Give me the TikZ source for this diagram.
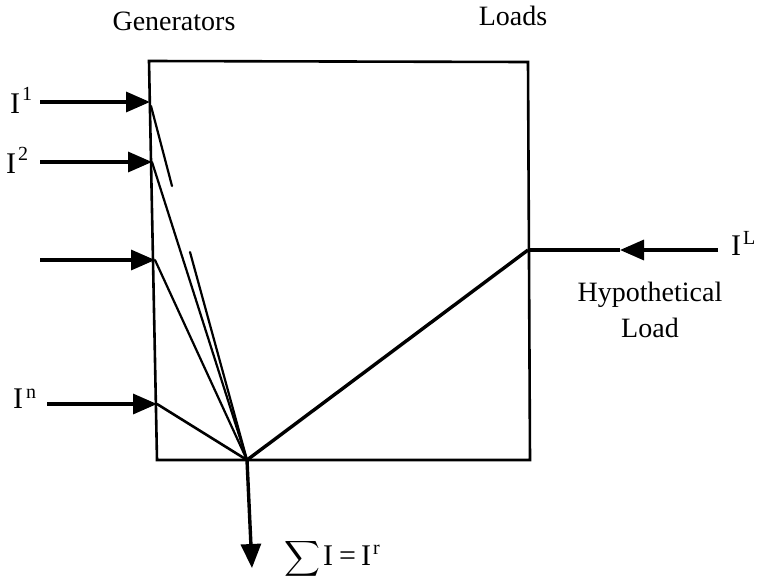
\documentclass[tikz,border=0pt]{standalone}
\usepackage{exscale}
\usepackage{fontspec}
\setmainfont{Liberation Serif}
\usetikzlibrary{arrows.meta}
\newcommand{\lbl}[2]{I\kern2pt\raisebox{13pt}{\fontsize{20}{20}\selectfont #2}}
\begin{document}
\begin{tikzpicture}[x=1pt,y=-1pt,
  ln/.style={line width=2.6pt, line cap=round},
  thin/.style={line width=2.2pt, line cap=round},
  arr/.style={line width=3.4pt, -{Triangle[length=24pt,width=20pt]}},
  txt/.style={font=\fontsize{28}{32}\selectfont, inner sep=0pt},
  ilab/.style={font=\fontsize{30}{32}\selectfont, inner sep=0pt, anchor=base west}]
\useasboundingbox (0,0) rectangle (760,581);
% box corners
\coordinate (tl) at (149,61);
\coordinate (tr) at (528,62);
\coordinate (br) at (530,460);
\coordinate (bl) at (157,460);
\draw[ln] (tl) -- (tr) -- (br) -- (bl) -- cycle;
% generator entry points
\coordinate (g1) at (150,102);
\coordinate (g2) at (152,162);
\coordinate (g3) at (155,260);
\coordinate (gn) at (157,404);
\coordinate (P) at (247,460);
\coordinate (ld) at (528,250);
% incoming arrow starts
\coordinate (s1) at (40,102);
\coordinate (s2) at (40,162);
\coordinate (s3) at (40,260);
\coordinate (sn) at (47,404);
\draw[arr] (s1) -- (g1);
\draw[arr] (s2) -- (g2);
\draw[arr] (s3) -- (g3);
\draw[arr] (sn) -- (gn);
% lines to P
\coordinate (b1a) at (151,106);
\coordinate (b1b) at (172,186);
\coordinate (b1c) at (190,252);
\draw[thin] (b1a) -- (b1b);
\draw[thin] (b1c) -- (P);
\draw[thin] (g2) -- (P);
\draw[thin] (g3) -- (P);
\draw[ln] (gn) -- (P);
\draw[line width=3.4pt] (ld) -- (P);
% hypothetical load arrow
\coordinate (lstart) at (718,250);
\coordinate (lhead) at (620,250);
\draw[arr] (lstart) -- (lhead);
\draw[line width=3.4pt] (lhead) -- (ld);
% outgoing
\coordinate (out) at (252,568);
\draw[arr] (P) -- (out);
% labels
\node[txt, anchor=base] (gen) at (174,30) {Generators};
\node[txt, anchor=base] (loads) at (513,25) {Loads};
\node[ilab] (i1) at (10,113) {\lbl{I}{1}};
\node[ilab] (i2) at (6,173) {\lbl{I}{2}};
\node[ilab] (in) at (13,408) {I\kern3pt\raisebox{10pt}{\fontsize{20}{20}\selectfont n}};
\node[ilab] (iL) at (731,255) {I\kern2pt\raisebox{11pt}{\fontsize{20}{20}\selectfont L}};
\node[txt, anchor=base] (hyp) at (650,301) {Hypothetical};
\node[txt, anchor=base] (load) at (650,337) {Load};
\node[ilab, anchor=base west] (sum) at (284,565) {$\displaystyle\sum$\kern3pt I\kern1pt\,=\,I\kern2pt\raisebox{11pt}{\fontsize{20}{20}\selectfont r}};
\end{tikzpicture}
\end{document}
